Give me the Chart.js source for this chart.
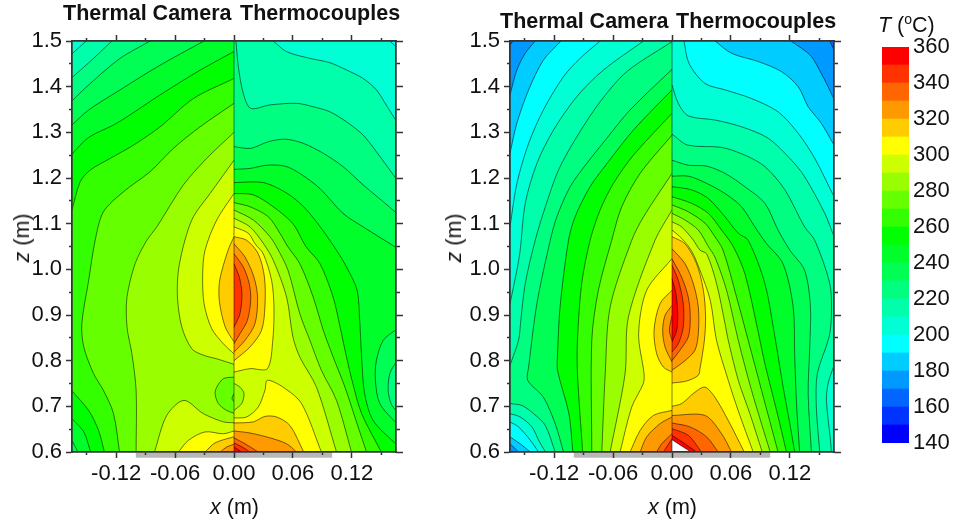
<!DOCTYPE html>
<html>
<head>
<meta charset="utf-8">
<style>
    html, body { margin: 0; padding: 0; background: #fff; }
    body { width: 959px; height: 523px; position: relative; overflow: hidden; font-family: "Liberation Sans", Arial, sans-serif; color: #111; }
    canvas { position: absolute; top: 0; }
    .lbl { position: absolute; font-size: 21.5px; line-height: 24px; white-space: nowrap; }
    .ttl { font-weight: bold; }
    .rot { transform: translate(-50%, -50%) rotate(-90deg); }
    sup { font-size: 14px; line-height: 0; }
</style>
</head>
<body>
<canvas id="panel1" style="left:0"></canvas>
<canvas id="panel2" style="left:438px"></canvas>
<canvas id="scale" style="left:860px"></canvas>
<div class="lbl ttl" style="left:63px;top:1px">Thermal Camera</div>
<div class="lbl ttl" style="left:240px;top:1px">Thermocouples</div>
<div class="lbl ttl" style="left:500px;top:9px">Thermal Camera</div>
<div class="lbl ttl" style="left:676px;top:9px">Thermocouples</div>
<div class="lbl" style="left:210px;top:495px"><i>x</i> (m)</div>
<div class="lbl" style="left:648px;top:495px"><i>x</i> (m)</div>
<div class="lbl rot" style="left:22px;top:238px"><i>z</i> (m)</div>
<div class="lbl rot" style="left:454px;top:238px"><i>z</i> (m)</div>
<div class="lbl" style="left:878px;top:13px"><i>T</i> (<sup>o</sup>C)</div>
<script src="https://cdn.jsdelivr.net/npm/chart.js@4"></script>
<script>
// colour bands, lower bound of each band in deg C
const bandLevels = [140, 150, 160, 170, 180, 190, 200, 210, 220, 230, 240, 250, 260, 270, 280, 290, 300, 310, 320, 330, 340, 350];
const bandColors = ['#0000ff', '#0033ff', '#0066ff', '#0099ff', '#00ccff', '#00ffff', '#00ffd4', '#00ffaa', '#00ff80', '#00ff55', '#00ff2a', '#00ff00',
    '#33ff00', '#66ff00', '#99ff00', '#ccff00', '#ffff00', '#ffcc00', '#ff9900', '#ff6600', '#ff3300', '#ff0000'];
const scaleTicks = [140, 160, 180, 200, 220, 240, 260, 280, 300, 320, 340, 360];

const xMajor = [-0.12, -0.06, 0, 0.06, 0.12];
const xMinor = [-0.15, -0.09, -0.03, 0.03, 0.09, 0.15];
const zMajor = [0.6, 0.7, 0.8, 0.9, 1.0, 1.1, 1.2, 1.3, 1.4, 1.5];
const zMinor = [0.65, 0.75, 0.85, 0.95, 1.05, 1.15, 1.25, 1.35, 1.45];
const xLimits = [-0.165, 0.165];
const zLimits = [0.6, 1.5];
const heaterX = [-0.1, 0.1];
const heaterZ = 0.5936;

// contour regions, [band, [x, z, x, z, ...]], painted in list order
const cameraSide1 = [
    [200, [-.165,.6, -.165,1.5, 0,1.5, 0,.6]],
    [210, [-.165,1.472, -.1505,1.5, 0,1.5, 0,.6, -.165,.6]],
    [220, [-.165,1.42, -.143,1.462, -.1244,1.5, 0,1.5, 0,.6, -.165,.6]],
    [230, [-.165,1.369, -.1464,1.407, -.116,1.462, -.0854,1.5, 0,1.5, 0,.6, -.165,.6]],
    [240, [-.165,1.316, -.148,1.349, -.116,1.393, -.0753,1.447, -.0305,1.5, 0,1.5, 0,.6, -.165,.6]],
    [250, [-.165,1.2525, -.148,1.289, -.1193,1.32, -.0753,1.382, -.0346,1.436, 0,1.477, 0,.6, -.165,.6]],
    [260, [-.165,1.13, -.1566,1.192, -.1464,1.2175, -.126,1.243, -.1024,1.272, -.0753,1.312, -.0414,1.374, 0,1.418, 0,.6, -.165,.6]],
    [250, [-.165,.7336, -.148,.691, -.138,.6475, -.132,.6, -.165,.6]],
    [240, [-.165,.673, -.153,.644, -.146,.6, -.165,.6]],
    [230, [-.165,.6256, -.159,.6, -.165,.6]],
    [270, [-.1166,.6, -.1227,.684, -.133,.735, -.143,.7716, -.153,.83, -.155,.881, -.148,.976, -.1414,1.0636, -.133,1.126, -.1125,1.17, -.0854,1.214, -.0617,1.265, -.0346,1.312, 0,1.3635, 0,.6]],
    [280, [-.0997,.6, -.0997,.735, -.104,.815, -.109,.874, -.109,.939, -.1007,1.0125, -.0888,1.0636, -.0786,1.093, -.0515,1.185, -.0278,1.243, 0,1.3, 0,.6]],
    [290, [0,.792, -.0176,.804, -.0312,.812, -.043,.826, -.0532,.874, -.0576,.939, -.0566,.998, -.05,1.0636, -.0414,1.115, -.0244,1.166, 0,1.239]],
    [290, [-.081,.6, -.0685,.68, -.051,.713, -.0312,.684, -.0108,.666, 0,.664, 0,.6]],
    [300, [0,.815, -.0108,.837, -.0227,.87, -.0305,.925, -.0319,.99, -.0295,1.042, -.0176,1.108, 0,1.166]],
    [300, [-.0566,.6, -.0464,.6256, -.0295,.644, -.0108,.64, 0,.646, 0,.6]],
    [310, [0,.841, -.009,.874, -.0149,.93, -.0146,.976, -.006,1.042, 0,1.0715]],
    [310, [-.0295,.6, -.0193,.62, -.0007,.633, 0,.633, 0,.6]],
    [320, [-.0141,.6, -.0075,.611, 0,.6168, 0,.6]],
    [270, [0,.764, -.0108,.7606, -.0176,.742, -.0193,.728, -.0159,.706, -.0075,.691, 0,.685]],
    [260, [0,.728, -.002,.717, 0,.71]]
];

const couplesSide1 = [
    [200, [0,.6, 0,1.5, .165,1.5, .165,.6]],
    [190, [.1587,1.5, .165,1.4876, .165,1.5]],
    [210, [.04,1.5, .0536,1.4766, .0773,1.462, .0976,1.4525, .1146,1.4365, .1315,1.418, .145,1.393, .155,1.36, .165,1.3255, .165,.6, 0,.6, 0,1.5]],
    [220, [.002,1.5, .0044,1.444, .0095,1.385, .017,1.3525, .0366,1.36, .0637,1.3635, .0807,1.356, .0976,1.345, .1146,1.323, .1315,1.294, .145,1.2576, .165,1.199, .165,.6, 0,.6, 0,1.5]],
    [230, [0,1.2686, .017,1.265, .035,1.2795, .052,1.285, .0705,1.276, .091,1.254, .111,1.225, .1315,1.185, .152,1.148, .165,1.124, .165,.6, 0,.6]],
    [240, [0,1.219, .0163,1.221, .0332,1.228, .052,1.226, .067,1.21, .0875,1.177, .111,1.1226, .1315,1.093, .165,1.048, .165,.6, 0,.6]],
    [230, [.165,.868, .152,.8446, .145,.8, .144,.757, .1485,.706, .165,.6635]],
    [220, [.165,.797, .1587,.7716, .157,.735, .16,.706, .165,.69]],
    [250, [0,1.19, .0298,1.19, .0536,1.167, .0705,1.138, .0875,1.094, .1044,1.0417, .1146,1.005, .1254,.954, .128,.888, .13,.808, .133,.728, .1417,.669, .165,.617, .165,.6, 0,.6]],
    [260, [0,1.166, .0197,1.163, .04,1.137, .06,1.1, .0732,1.05, .0875,1.0125, .101,.939, .108,.874, .1146,.808, .121,.75, .13,.684, .15,.6, 0,.6]],
    [270, [0,1.146, .0163,1.137, .035,1.115, .0468,1.079, .055,1.049, .067,1.0125, .0807,.939, .091,.866, .101,.808, .113,.742, .1264,.655, .135,.6, 0,.6]],
    [280, [0,1.13, .0197,1.108, .0366,1.0715, .0434,1.049, .055,.998, .067,.903, .0773,.8446, .089,.779, .1044,.713, .1197,.6, 0,.6]],
    [290, [0,1.112, .0163,1.093, .0298,1.057, .04,1.02, .0536,.939, .06,.852, .067,.808, .084,.742, .1044,.6, 0,.6]],
    [280, [0,.75, .0061,.742, .0102,.728, .0078,.706, 0,.691]],
    [300, [0,1.093, .0146,1.079, .0214,1.056, .0298,1.034, .0383,.976, .0407,.9176, .0395,.8446, .034,.7825, .0163,.7825, 0,.775]],
    [300, [0,.6745, .0129,.6767, .0247,.6986, .0315,.735, .034,.757, .05,.742, .0688,.706, .089,.6, 0,.6]],
    [310, [0,1.0715, .0129,1.0636, .0247,1.034, .031,.983, .0315,.9176, .028,.866, .0163,.83, 0,.8]],
    [310, [0,.6635, .0197,.666, .0315,.678, .0434,.6767, .057,.658, .071,.6, 0,.6]],
    [320, [0,1.056, .0112,1.027, .0203,.983, .024,.939, .0214,.881, .0112,.8446, 0,.819]],
    [320, [0,.646, .0163,.6416, .0366,.631, .0536,.618, .0637,.6, 0,.6]],
    [330, [0,1.034, .0095,1.005, .0156,.968, .017,.932, .0136,.888, .0061,.859, 0,.837]],
    [330, [0,.631, .0112,.618, .0247,.6, 0,.6]],
    [340, [0,1.012, .0054,.983, .0081,.947, .0061,.903, 0,.873]],
    [340, [0,.62, .0095,.6095, .0163,.6, 0,.6]],
    [350, [0,.611, .0078,.6, 0,.6]]
];

const cameraSide2 = [
    [160, [-.165,.6, -.165,1.5, 0,1.5, 0,.6]],
    [170, [-.165,1.491, -.162,1.5, 0,1.5, 0,.6, -.165,.6]],
    [180, [-.165,1.382, -.158,1.4365, -.1495,1.473, -.1393,1.5, 0,1.5, 0,.6, -.165,.6]],
    [190, [-.165,1.254, -.158,1.32, -.146,1.393, -.131,1.458, -.113,1.5, 0,1.5, 0,.6, -.165,.6]],
    [200, [-.165,1.093, -.158,1.188, -.146,1.276, -.131,1.349, -.1105,1.422, -.0936,1.462, -.0732,1.5, 0,1.5, 0,.6, -.165,.6]],
    [210, [-.165,.925, -.158,.998, -.1546,1.042, -.1495,1.1445, -.1376,1.232, -.1207,1.305, -.097,1.378, -.0698,1.4365, -.029,1.5, 0,1.5, 0,.6, -.165,.6]],
    [220, [-.165,.79, -.1563,.8446, -.154,.888, -.1495,.9687, -.1393,1.0636, -.129,1.137, -.1156,1.2175, -.097,1.29, -.0732,1.367, -.046,1.433, 0,1.4985, 0,.6, -.165,.6]],
    [210, [-.165,.706, -.153,.702, -.141,.684, -.129,.658, -.119,.6, -.165,.6]],
    [200, [-.165,.684, -.1546,.6767, -.1427,.655, -.1359,.626, -.129,.6, -.165,.6]],
    [190, [-.165,.666, -.1563,.655, -.1444,.626, -.1359,.6, -.165,.6]],
    [180, [-.165,.633, -.1546,.618, -.1444,.6, -.165,.6]],
    [170, [-.165,.618, -.1563,.6, -.165,.6]],
    [230, [-.1105,.6, -.119,.662, -.131,.72, -.147,.757, -.146,.786, -.1376,.925, -.124,1.0636, -.1173,1.115, -.1037,1.181, -.0868,1.232, -.0664,1.287, -.0427,1.349, 0,1.438, 0,.6]],
    [250, [-.101,.6, -.105,.684, -.1166,.779, -.1166,.815, -.114,.9176, -.1054,1.0636, -.0987,1.115, -.0834,1.181, -.0647,1.236, -.0393,1.305, 0,1.393, 0,.6]],
    [260, [-.091,.6, -.0963,.7716, -.0963,.8446, -.092,.9687, -.0834,1.0636, -.0732,1.13, -.0597,1.188, -.0393,1.25, 0,1.3416, 0,.6]],
    [270, [-.0817,.6, -.0817,.8446, -.075,.954, -.0614,1.0636, -.0512,1.137, -.0325,1.21, 0,1.294, 0,.6]],
    [280, [-.0715,.6, -.068,.7716, -.063,.9176, -.041,1.0636, -.029,1.115, 0,1.21, 0,.6]],
    [290, [-.063,.6, -.0478,.7716, -.0444,.8957, -.0173,1.0636, 0,1.13, 0,.6]],
    [300, [-.0529,.6, -.041,.6986, -.0292,.75, -.0285,.7716, -.034,.859, -.0258,.954, 0,1.0236, 0,.6]],
    [310, [0,.954, -.0122,.925, -.0183,.866, -.0156,.815, -.0088,.786, 0,.775]],
    [320, [0,.921, -.0071,.899, -.0095,.866, -.0071,.83, 0,.797]],
    [330, [0,.899, -.0027,.866, 0,.845]],
    [310, [-.0427,.6, -.0325,.647, -.019,.68, 0,.691, 0,.6]],
    [320, [-.0325,.6, -.0258,.633, -.0122,.662, 0,.6767, 0,.6]],
    [330, [-.0156,.6, -.0105,.618, 0,.64, 0,.6]],
    [340, [-.0088,.6, 0,.629, 0,.6]]
];

const couplesSide2 = [
    [160, [0,.6, 0,1.5, .165,1.5, .165,.6]],
    [170, [.1607,1.5, .165,1.48, .165,.6, 0,.6, 0,1.5]],
    [180, [.121,1.5, .132,1.484, .142,1.466, .152,1.429, .159,1.4, .165,1.372, .165,.6, 0,.6, 0,1.5]],
    [190, [.0437,1.5, .0607,1.473, .0878,1.455, .1115,1.433, .1285,1.4, .1387,1.356, .152,1.32, .165,1.272, .165,.6, 0,.6, 0,1.5]],
    [200, [.0122,1.5, .0173,1.451, .0336,1.407, .054,1.393, .081,1.374, .108,1.345, .1285,1.298, .1454,1.243, .165,1.159, .165,.6, 0,.6, 0,1.5]],
    [210, [0,1.404, .0064,1.3635, .0166,1.336, .0437,1.327, .071,1.312, .098,1.287, .1217,1.239, .135,1.203, .1556,1.1226, .165,1.0715, .165,.6, 0,.6]],
    [200, [.165,.79, .159,.75, .1573,.713, .1614,.6256, .1624,.6, .165,.6]],
    [220, [0,1.296, .016,1.272, .0505,1.267, .0742,1.25, .0946,1.225, .115,1.174, .135,1.093, .1454,1.0636, .1607,.9687, .1624,.903, .16,.852, .148,.7716, .147,.6986, .1505,.6, 0,.6]],
    [230, [0,1.239, .0166,1.228, .0353,1.226, .054,1.21, .0742,1.181, .0946,1.1445, .108,1.086, .12,1.042, .135,.998, .141,.9176, .1403,.83, .1387,.728, .142,.6, 0,.6]],
    [240, [0,1.204, .0166,1.204, .0336,1.19, .054,1.166, .0708,1.137, .0844,1.093, .096,1.057, .113,1.0125, .1234,.9176, .125,.808, .127,.6986, .13,.6, 0,.6]],
    [250, [0,1.181, .02,1.174, .037,1.155, .054,1.115, .0675,1.079, .0776,1.0636, .0946,.9687, .1048,.852, .1132,.742, .12,.662, .125,.6, 0,.6]],
    [260, [0,1.159, .02,1.1445, .037,1.1226, .0505,1.086, .0624,1.05, .0742,.9906, .086,.881, .0946,.7935, .1065,.691, .1166,.6, 0,.6]],
    [270, [0,1.141, .0166,1.126, .0336,1.101, .0437,1.0715, .052,1.042, .0658,.939, .0776,.8446, .0912,.735, .108,.6, 0,.6]],
    [280, [0,1.1226, .0132,1.108, .0268,1.086, .037,1.05, .0437,1.027, .0556,.954, .0675,.8446, .081,.735, .1,.6, 0,.6]],
    [290, [0,1.104, .0098,1.093, .0217,1.064, .0285,1.042, .0353,1.034, .0454,.9687, .054,.881, .0573,.8446, .0675,.757, .0793,.684, .0919,.6, 0,.6]],
    [300, [0,1.086, .0098,1.0678, .02,1.04, .0285,.998, .039,.932, .0454,.844, .0573,.757, .0675,.69, .0827,.6, 0,.6]],
    [310, [0,1.0715, .0132,1.056, .025,1.0125, .032,.954, .0342,.8957, .033,.8446, .0285,.7825, .0268,.768, .015,.7555, 0,.751]],
    [310, [0,.7, .0098,.706, .0234,.731, .0336,.742, .0437,.72, .0573,.669, .0736,.6, 0,.6]],
    [320, [0,1.045, .0132,1.0125, .0217,.9687, .0268,.9176, .0268,.859, .0234,.823, .0132,.8, 0,.779]],
    [320, [0,.68, .0336,.68, .0505,.64, .0607,.6, 0,.6]],
    [330, [0,1.023, .0098,.983, .0166,.939, .0186,.8957, .0166,.852, .0081,.823, 0,.8]],
    [330, [0,.6635, .0183,.655, .0353,.633, .047,.6, 0,.6]],
    [340, [0,1.009, .0064,.976, .0115,.925, .0115,.874, .0064,.837, 0,.819]],
    [340, [0,.651, .0166,.6365, .03,.6, 0,.6]],
    [350, [0,.98, .004,.947, .0058,.903, .0047,.866, 0,.841]],
    [350, [0,.6365, .0132,.618, .025,.6, 0,.6]],
    [360, [0,.627, .0193,.6, 0,.6]]
];

const tickFont = { family: '"Liberation Sans", Arial, sans-serif', size: 22 };
const axisColor = '#333';
const lineColor = 'rgba(0,0,0,0.6)';

const bandColor = (t) => {
    const i = bandLevels.indexOf(t);
    return i < 0 ? '#ffffff' : bandColors[i];
};

const onSameEdge = (a, b) =>
    (a.x === b.x && (a.x === 0 || a.x === xLimits[0] || a.x === xLimits[1])) ||
    (a.y === b.y && (a.y === zLimits[0] || a.y === zLimits[1]));

// points next to a run along the frame are doubled so the spline keeps the corner sharp
const toPoints = (flat) => {
    const raw = [];
    for (let i = 0; i < flat.length; i += 2) raw.push({ x: flat[i], y: flat[i + 1] });
    const pts = [];
    raw.forEach((p, i) => {
        pts.push(p);
        const a = raw[i - 1];
        const b = raw[i + 1];
        if ((a && onSameEdge(a, p)) || (b && onSameEdge(p, b))) pts.push({ x: p.x, y: p.y });
    });
    return pts;
};

const regionDatasets = (regions) => {
    const sets = [];
    regions.forEach(([t, flat]) => {
        const pts = toPoints(flat);
        sets.push({ data: pts, fill: 'shape', backgroundColor: bandColor(t), borderWidth: 0, borderColor: 'transparent' });
        sets.push({
            data: pts, fill: false, borderWidth: 0.9, borderColor: lineColor,
            segment: {
                borderColor: (ctx) => onSameEdge(ctx.p0.parsed, ctx.p1.parsed) ? 'transparent' : lineColor
            }
        });
    });
    return sets;
};

const axis = (position, values, length, extra) => ({
    type: 'linear',
    position,
    min: position === 'left' || position === 'right' ? zLimits[0] : xLimits[0],
    max: position === 'left' || position === 'right' ? zLimits[1] : xLimits[1],
    afterBuildTicks: (s) => { s.ticks = values.map(v => ({ value: v })); },
    grid: { drawOnChartArea: false, drawTicks: true, tickLength: length, tickColor: axisColor, tickWidth: 1.5, z: 1 },
    border: { display: true, color: axisColor, width: 1.5, z: 1 },
    ticks: { display: false },
    afterFit: (s) => {
        if (position === 'left' || position === 'right') s.width = 0; else s.height = 0;
    },
    weight: -1,
    ...extra
});

const drawPanel = (id, left, right) => {
    const canvas = document.getElementById(id);
    canvas.width = 420;
    canvas.height = 523;
    canvas.style.width = '420px';
    canvas.style.height = '523px';
    const sets = [...regionDatasets(left), ...regionDatasets(right)];
    sets.forEach(s => { s.tension = 0.3; });
    sets.push({ data: [{ x: 0, y: zLimits[0] }, { x: 0, y: zLimits[1] }], fill: false, borderWidth: 1, borderColor: 'rgba(0,0,0,0.5)', tension: 0 });
    sets.push({
        data: [{ x: heaterX[0], y: heaterZ }, { x: heaterX[1], y: heaterZ }], fill: false, borderWidth: 5.5,
        borderColor: '#b8b8b8', clip: false, tension: 0
    });
    sets.forEach((s, i) => { s.order = sets.length - i; s.pointRadius = 0; s.xAxisID = 'x'; s.yAxisID = 'y'; });

    new Chart(canvas, {
        type: 'line',
        data: { datasets: sets },
        options: {
            responsive: false,
            animation: false,
            events: [],
            layout: { padding: { top: 41, right: 24, left: 0, bottom: 0 } },
            plugins: { legend: { display: false }, tooltip: { enabled: false }, title: { display: false } },
            scales: {
                x: axis('bottom', xMajor, 6, {
                    weight: 0,
                    afterFit: (s) => { s.height = 71; },
                    ticks: { display: true, autoSkip: false, maxRotation: 0, color: '#111', font: tickFont, padding: 3, callback: (v) => v.toFixed(2) }
                }),
                xMinor: axis('bottom', xMinor, 3),
                xTop: axis('top', xMajor, 6),
                xTopMinor: axis('top', xMinor, 3),
                y: axis('left', zMajor, 6, {
                    weight: 0,
                    afterFit: (s) => { s.width = 72; },
                    ticks: { display: true, autoSkip: false, color: '#111', font: tickFont, padding: 4, callback: (v) => v.toFixed(1) }
                }),
                yMinor: axis('left', zMinor, 3),
                yRight: axis('right', zMajor, 7),
                yRightMinor: axis('right', zMinor, 4)
            }
        }
    });
};

drawPanel('panel1', cameraSide1, couplesSide1);
drawPanel('panel2', cameraSide2, couplesSide2);

// colour scale
const scaleCanvas = document.getElementById('scale');
scaleCanvas.width = 99;
scaleCanvas.height = 523;
scaleCanvas.style.width = '99px';
scaleCanvas.style.height = '523px';
new Chart(scaleCanvas, {
    type: 'bar',
    data: {
        labels: ['T'],
        datasets: bandLevels.map((t, i) => ({
            data: [[t, t + 10]],
            backgroundColor: bandColors[i],
            barPercentage: 1,
            categoryPercentage: 1,
            grouped: false
        }))
    },
    options: {
        responsive: false,
        animation: false,
        events: [],
        layout: { padding: { top: 47, bottom: 80, left: 22, right: 0 } },
        plugins: { legend: { display: false }, tooltip: { enabled: false } },
        scales: {
            x: { display: false },
            y: {
                position: 'right',
                min: bandLevels[0],
                max: 360,
                afterBuildTicks: (s) => { s.ticks = scaleTicks.map(v => ({ value: v })); },
                afterFit: (s) => { s.width = 50; },
                grid: { display: false, drawTicks: false },
                border: { display: false },
                ticks: { color: '#111', font: tickFont, padding: 4 }
            }
        }
    }
});
</script>
</body>
</html>
